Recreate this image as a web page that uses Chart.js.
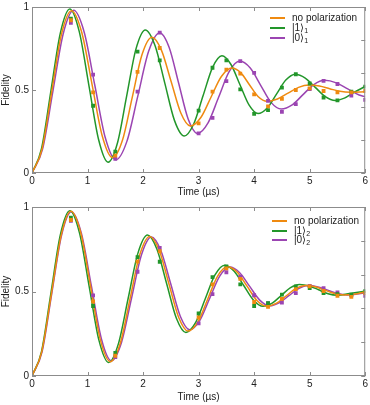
<!DOCTYPE html>
<html lang="en">
<head>
<meta charset="UTF-8">
<title>Fidelity vs time</title>
<script src="https://cdn.jsdelivr.net/npm/chart.js@4.4.1/dist/chart.umd.min.js"></script>
<style>
  body { margin: 0; background: #fff; font-family: 'Liberation Sans', Arial, sans-serif; }
  #wrap { position: relative; width: 370px; height: 405px; overflow: hidden; }
  canvas { position: absolute; left: 0; }
  #topChart { top: 0; }
  #bottomChart { top: 200px; }
  #legends { position: absolute; left: 0; top: 0; width: 370px; height: 405px; z-index: 2; }
  .swatch { position: absolute; width: 15px; height: 2px; }
  .label { position: absolute; font-size: 10px; line-height: 10px; color: #222; white-space: nowrap; }
  sub { font-size: 7px; vertical-align: -2px; line-height: 0; }
</style>
</head>
<body>
<div id="wrap">
  <canvas id="topChart" width="370" height="200"></canvas>
  <canvas id="bottomChart" width="370" height="205"></canvas>
  <div id="legends"></div>
</div>

<script>
// measured points (µs, fidelity)
const sampleTimes = [0.7, 1.1, 1.5, 1.9, 2.3, 3.0, 3.25, 3.5, 3.75, 4.0, 4.25, 4.5, 4.75, 5.0, 5.25, 5.5, 5.75, 6.0];

const topNonePts = [0.92, 0.486, 0.105, 0.609, 0.753, 0.299, 0.49, 0.623, 0.599, 0.474, 0.401, 0.447, 0.50, 0.51, 0.494, 0.486, 0.486, 0.494];
const topOnePts  = [0.93, 0.405, 0.129, 0.731, 0.678, 0.376, 0.634, 0.678, 0.504, 0.356, 0.379, 0.514, 0.595, 0.539, 0.455, 0.437, 0.49, 0.52];
const topZeroPts = [0.905, 0.593, 0.085, 0.49, 0.846, 0.239, 0.332, 0.553, 0.674, 0.603, 0.435, 0.368, 0.415, 0.506, 0.555, 0.536, 0.467, 0.441];

const botNonePts = [0.923, 0.442, 0.12, 0.677, 0.738, 0.346, 0.542, 0.637, 0.575, 0.438, 0.409, 0.456, 0.514, 0.53, 0.503, 0.475, 0.468, 0.49];
const botOnePts  = [0.937, 0.414, 0.137, 0.703, 0.676, 0.37, 0.585, 0.648, 0.542, 0.414, 0.431, 0.482, 0.53, 0.52, 0.49, 0.484, 0.482, 0.502];
const botZeroPts = [0.918, 0.477, 0.112, 0.617, 0.758, 0.311, 0.485, 0.614, 0.588, 0.478, 0.431, 0.435, 0.49, 0.533, 0.52, 0.495, 0.478, 0.475];

// fitted curves
const topNoneT = [0, 0.18, 0.355, 0.53, 0.71, 0.895, 1.08, 1.265, 1.45, 1.63, 1.805, 1.98, 2.16, 2.33, 2.505, 2.68, 2.85, 3.04, 3.225, 3.41, 3.6, 3.76, 3.915, 4.07, 4.23, 4.42, 4.61, 4.8, 4.99, 5.175, 5.36, 5.545, 5.73, 6.0];
const topNoneF = [0, 0.143, 0.489, 0.835, 0.978, 0.848, 0.536, 0.223, 0.093, 0.199, 0.456, 0.712, 0.818, 0.74, 0.551, 0.361, 0.283, 0.334, 0.458, 0.581, 0.632, 0.603, 0.532, 0.461, 0.432, 0.446, 0.481, 0.516, 0.53, 0.524, 0.508, 0.492, 0.486, 0.49];

const topOneT = [0, 0.17, 0.34, 0.51, 0.68, 0.85, 1.025, 1.2, 1.37, 1.54, 1.705, 1.87, 2.04, 2.215, 2.39, 2.565, 2.74, 2.91, 3.08, 3.25, 3.42, 3.58, 3.745, 3.91, 4.07, 4.24, 4.405, 4.57, 4.74, 4.92, 5.1, 5.28, 5.46, 5.625, 5.79, 6.0];
const topOneF = [0, 0.145, 0.494, 0.843, 0.988, 0.853, 0.527, 0.2, 0.065, 0.182, 0.464, 0.745, 0.862, 0.768, 0.543, 0.317, 0.223, 0.294, 0.465, 0.635, 0.706, 0.655, 0.532, 0.409, 0.358, 0.393, 0.477, 0.56, 0.595, 0.572, 0.516, 0.46, 0.437, 0.451, 0.484, 0.521];

const topZeroT = [0, 0.19, 0.375, 0.56, 0.75, 0.94, 1.13, 1.32, 1.51, 1.71, 1.905, 2.1, 2.3, 2.47, 2.64, 2.81, 2.98, 3.17, 3.36, 3.55, 3.74, 3.93, 4.115, 4.3, 4.49, 4.685, 4.88, 5.075, 5.27, 5.48, 5.685, 5.89, 6.0];
const topZeroF = [0, 0.144, 0.49, 0.836, 0.98, 0.848, 0.53, 0.212, 0.08, 0.192, 0.463, 0.733, 0.845, 0.756, 0.542, 0.327, 0.238, 0.302, 0.456, 0.61, 0.674, 0.632, 0.53, 0.427, 0.385, 0.41, 0.472, 0.533, 0.558, 0.543, 0.507, 0.47, 0.46];

const botNoneT = [0, 0.175, 0.35, 0.525, 0.7, 0.88, 1.055, 1.23, 1.41, 1.59, 1.765, 1.94, 2.12, 2.29, 2.465, 2.64, 2.81, 2.99, 3.165, 3.34, 3.52, 3.7, 3.875, 4.05, 4.23, 4.405, 4.58, 4.755, 4.93, 5.1, 5.275, 5.45, 5.62, 5.8, 6.0];
const botNoneF = [0, 0.143, 0.488, 0.832, 0.975, 0.845, 0.53, 0.215, 0.085, 0.194, 0.456, 0.717, 0.826, 0.744, 0.546, 0.348, 0.266, 0.322, 0.456, 0.59, 0.646, 0.612, 0.53, 0.447, 0.413, 0.431, 0.475, 0.518, 0.536, 0.528, 0.508, 0.488, 0.48, 0.484, 0.497];

const botOneT = [0, 0.17, 0.34, 0.51, 0.68, 0.855, 1.03, 1.205, 1.38, 1.555, 1.73, 1.905, 2.08, 2.25, 2.425, 2.6, 2.77, 2.945, 3.12, 3.295, 3.47, 3.64, 3.815, 3.99, 4.16, 4.325, 4.49, 4.655, 4.82, 4.99, 5.16, 5.33, 5.5, 5.75, 6.0];
const botOneF = [0, 0.143, 0.489, 0.835, 0.978, 0.847, 0.529, 0.212, 0.08, 0.19, 0.457, 0.724, 0.834, 0.75, 0.546, 0.342, 0.258, 0.316, 0.457, 0.598, 0.656, 0.62, 0.534, 0.448, 0.412, 0.431, 0.477, 0.523, 0.542, 0.533, 0.51, 0.487, 0.478, 0.49, 0.502];

const botZeroT = [0, 0.18, 0.355, 0.53, 0.71, 0.89, 1.07, 1.25, 1.43, 1.61, 1.79, 1.97, 2.15, 2.32, 2.495, 2.67, 2.84, 3.02, 3.2, 3.38, 3.56, 3.74, 3.92, 4.1, 4.28, 4.45, 4.625, 4.8, 4.97, 5.15, 5.325, 5.5, 5.68, 5.85, 6.0];
const botZeroF = [0, 0.142, 0.486, 0.83, 0.972, 0.843, 0.531, 0.219, 0.09, 0.197, 0.457, 0.716, 0.823, 0.743, 0.549, 0.354, 0.274, 0.328, 0.46, 0.591, 0.645, 0.611, 0.53, 0.449, 0.415, 0.433, 0.475, 0.517, 0.535, 0.527, 0.508, 0.488, 0.48, 0.485, 0.493];

const colors = { none: '#ef8a10', one: '#22962a', zero: '#9b45b2' };
const textColor = '#222';
const frameColor = '#8c8c8c';

Chart.defaults.font.family = "'Liberation Sans', Arial, sans-serif";
Chart.defaults.font.size = 10;
Chart.defaults.color = textColor;

function pairs(xs, ys) {
  return xs.map((x, i) => ({ x: x, y: ys[i] }));
}

// box around the plot with short inward ticks, gnuplot style
const frameTicks = {
  id: 'frameTicks',
  afterDatasetsDraw(chart) {
    const { ctx, chartArea: a, scales } = chart;
    const len = 4;
    ctx.save();
    ctx.strokeStyle = frameColor;
    ctx.lineWidth = 1;
    ctx.strokeRect(a.left + 0.5, a.top + 0.5, a.right - a.left - 1, a.bottom - a.top - 1);
    ctx.beginPath();
    scales.x.ticks.forEach(t => {
      const px = Math.round(scales.x.getPixelForValue(t.value)) + 0.5;
      ctx.moveTo(px, a.top); ctx.lineTo(px, a.top + len);
      ctx.moveTo(px, a.bottom); ctx.lineTo(px, a.bottom - len);
    });
    scales.y.ticks.forEach(t => {
      const py = Math.round(scales.y.getPixelForValue(t.value)) + 0.5;
      ctx.moveTo(a.left, py); ctx.lineTo(a.left + len, py);
    });
    scales.y2.ticks.forEach(t => {
      const py = Math.round(scales.y2.getPixelForValue(t.value)) + 0.5;
      ctx.moveTo(a.right, py); ctx.lineTo(a.right - len, py);
    });
    ctx.stroke();
    ctx.restore();
  }
};

function curve(label, xs, ys, color) {
  return {
    label: label,
    data: pairs(xs, ys),
    borderColor: color,
    borderWidth: 1.5,
    pointRadius: 0,
    cubicInterpolationMode: 'monotone',
    fill: false
  };
}

function dots(ys, color) {
  return {
    type: 'scatter',
    data: pairs(sampleTimes, ys),
    backgroundColor: color,
    borderColor: color,
    borderWidth: 0,
    pointStyle: 'rect',
    pointRadius: 2.7,
    showLine: false
  };
}

function makePanel(id, datasets, padTop, axisHeight) {
  return new Chart(document.getElementById(id), {
    type: 'line',
    data: { datasets: datasets },
    options: {
      responsive: false,
      animation: false,
      devicePixelRatio: 1,
      layout: { padding: { top: padTop, right: 3, left: 0, bottom: 0 } },
      plugins: { legend: { display: false }, tooltip: { enabled: false } },
      scales: {
        x: {
          type: 'linear', min: 0, max: 6,
          afterFit: s => { s.height = axisHeight; },
          grid: { display: false, drawTicks: false },
          border: { display: false },
          ticks: { stepSize: 1, padding: 2, maxRotation: 0 },
          title: { display: true, text: 'Time (µs)', padding: { top: 0, bottom: 2 } }
        },
        y: {
          min: 0, max: 1,
          afterFit: s => { s.width = 32; },
          grid: { display: false, drawTicks: false },
          border: { display: false },
          ticks: {
            stepSize: 0.5, padding: 3, font: { lineHeight: 0.8 },
            callback: v => String(Math.round(v * 10) / 10)
          },
          title: { display: true, text: 'Fidelity', padding: 0 }
        },
        y2: {
          display: false, position: 'right', min: 0, max: 1,
          ticks: { stepSize: 0.2 }
        }
      }
    },
    plugins: [frameTicks]
  });
}

makePanel('topChart', [
  dots(topNonePts, colors.none),
  dots(topOnePts, colors.one),
  dots(topZeroPts, colors.zero),
  curve('no polarization', topNoneT, topNoneF, colors.none),
  curve('|1⟩1', topOneT, topOneF, colors.one),
  curve('|0⟩1', topZeroT, topZeroF, colors.zero)
], 4, 27);

makePanel('bottomChart', [
  dots(botNonePts, colors.none),
  dots(botOnePts, colors.one),
  dots(botZeroPts, colors.zero),
  curve('no polarization', botNoneT, botNoneF, colors.none),
  curve('|1⟩2', botOneT, botOneF, colors.one),
  curve('|0⟩2', botZeroT, botZeroF, colors.zero)
], 7, 29);

// legends inside the plot areas
const legendRows = [
  { x: 270, y: 18, color: colors.none, html: 'no polarization' },
  { x: 270, y: 28, color: colors.one, html: '|1⟩<sub>1</sub>' },
  { x: 270, y: 38, color: colors.zero, html: '|0⟩<sub>1</sub>' },
  { x: 272, y: 221, color: colors.none, html: 'no polarization' },
  { x: 272, y: 231, color: colors.one, html: '|1⟩<sub>2</sub>' },
  { x: 272, y: 240, color: colors.zero, html: '|0⟩<sub>2</sub>' }
];
const legendBox = document.getElementById('legends');
legendRows.forEach(r => {
  const sw = document.createElement('div');
  sw.className = 'swatch';
  sw.style.left = r.x + 'px';
  sw.style.top = (r.y - 1) + 'px';
  sw.style.background = r.color;
  legendBox.appendChild(sw);
  const lab = document.createElement('div');
  lab.className = 'label';
  lab.style.left = (r.x + 22) + 'px';
  lab.style.top = (r.y - 5) + 'px';
  lab.innerHTML = r.html;
  legendBox.appendChild(lab);
});
</script>
</body>
</html>
